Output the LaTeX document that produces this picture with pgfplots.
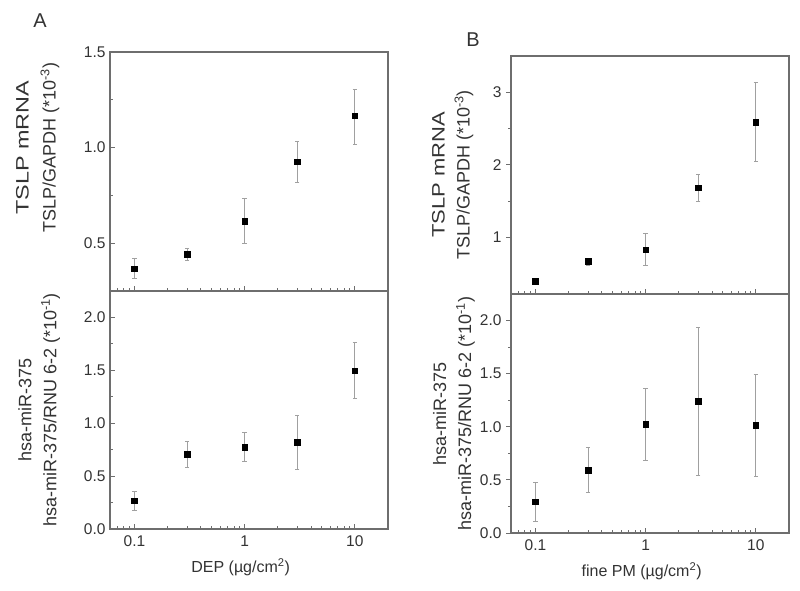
\documentclass[border=0pt]{standalone}
\usepackage{fontspec}
\setmainfont{Liberation Sans}
\usepackage{graphicx}
\usepackage{pgfplots}
\pgfplotsset{compat=1.18}
\definecolor{txt}{HTML}{333333}
\definecolor{axc}{HTML}{6E6E6E}
\definecolor{errc}{HTML}{A0A0A0}
\begin{document}
\begin{tikzpicture}
\path[use as bounding box] (0pt,0pt) rectangle (800pt,590pt);
\node[font=\fontsize{20}{24}\selectfont, text=txt] at (40pt,569pt) {A};
\node[font=\fontsize{20}{24}\selectfont, text=txt] at (473pt,550pt) {B};

% Panel A top
\begin{axis}[xmode=log, xmin=0.06, xmax=20,
  scale only axis, width=278pt, height=239pt,
  xtick={0.1,1,10}, xticklabels={},
  minor xtick={0.06,0.07,0.08,0.09,0.2,0.3,0.4,0.5,0.6,0.7,0.8,0.9,2,3,4,5,6,7,8,9},
  tick pos=left, tick align=inside,
  axis line style={axc, line width=1.1pt},
  major tick style={axc, line width=0.9pt}, major tick length=5pt,
  minor tick style={axc, line width=0.8pt}, minor tick length=3pt,
  tick label style={font=\fontsize{15.5}{18}\selectfont, text=txt},
  yticklabel style={xshift=-1pt},
  minor y tick num=1, clip=false,
  ymin=0.25, ymax=1.5, ytick={0.5,1.0,1.5}, yticklabels={0.5,1.0,1.5},
  ylabel={\scalebox{1.3}[1]{TSLP mRNA}\\TSLP/GAPDH (*10\textsuperscript{-3})},
  ylabel style={font=\fontsize{18}{27}\selectfont, text=txt, align=center,
    at={(axis description cs:-0.26,0.60)}, anchor=center},
  at={(110pt,299pt)}, anchor=south west]
\addplot[only marks, mark=square*, mark size=2.8pt, black, mark options={fill=black},
  error bars/.cd, y dir=both, y explicit,
  error bar style={errc, line width=0.8pt},
  error mark options={errc, mark size=2.2pt, line width=0.8pt, rotate=90}]
 coordinates {
 (0.1,0.367) += (0,0.053) -= (0,0.049)
 (0.3,0.442) += (0,0.030) -= (0,0.031)
 (1,0.615) += (0,0.119) -= (0,0.118)
 (3,0.927) += (0,0.108) -= (0,0.109)
 (10,1.166) += (0,0.140) -= (0,0.147)
};
\end{axis}

% Panel A bottom
\begin{axis}[xmode=log, xmin=0.06, xmax=20,
  scale only axis, width=278pt, height=238pt,
  xtick={0.1,1,10}, xticklabels={0.1,1,10},
  minor xtick={0.06,0.07,0.08,0.09,0.2,0.3,0.4,0.5,0.6,0.7,0.8,0.9,2,3,4,5,6,7,8,9},
  tick pos=left, tick align=inside,
  axis line style={axc, line width=1.1pt},
  major tick style={axc, line width=0.9pt}, major tick length=5pt,
  minor tick style={axc, line width=0.8pt}, minor tick length=3pt,
  tick label style={font=\fontsize{15.5}{18}\selectfont, text=txt},
  xticklabel style={yshift=-3pt},
  yticklabel style={xshift=-1pt},
  minor y tick num=1, clip=false,
  ymin=0, ymax=2.25, ytick={0,0.5,1.0,1.5,2.0}, yticklabels={0.0,0.5,1.0,1.5,2.0},
  xlabel={DEP (µg/cm\textsuperscript{2})},
  xlabel style={font=\fontsize{16}{20}\selectfont, text=txt,
    at={(axis description cs:0.47,-0.16)}, anchor=center},
  ylabel={hsa-miR-375\\hsa-miR-375/RNU 6-2 (*10\textsuperscript{-1})},
  ylabel style={font=\fontsize{18}{25}\selectfont, text=txt, align=center,
    at={(axis description cs:-0.255,0.5)}, anchor=center},
  at={(110pt,61pt)}, anchor=south west]
\addplot[only marks, mark=square*, mark size=2.8pt, black, mark options={fill=black},
  error bars/.cd, y dir=both, y explicit,
  error bar style={errc, line width=0.8pt},
  error mark options={errc, mark size=2.2pt, line width=0.8pt, rotate=90}]
 coordinates {
 (0.1,0.266) += (0,0.094) -= (0,0.090)
 (0.3,0.705) += (0,0.126) -= (0,0.122)
 (1,0.774) += (0,0.138) -= (0,0.138)
 (3,0.821) += (0,0.254) -= (0,0.260)
 (10,1.495) += (0,0.267) -= (0,0.263)
};
\end{axis}

% Panel B top
\begin{axis}[xmode=log, xmin=0.06, xmax=20,
  scale only axis, width=278pt, height=238pt,
  xtick={0.1,1,10}, xticklabels={},
  minor xtick={0.06,0.07,0.08,0.09,0.2,0.3,0.4,0.5,0.6,0.7,0.8,0.9,2,3,4,5,6,7,8,9},
  tick pos=left, xtick align=inside, ytick align=outside,
  axis line style={axc, line width=1.1pt},
  major tick style={axc, line width=0.9pt}, major tick length=5pt,
  minor tick style={axc, line width=0.8pt}, minor tick length=3pt,
  tick label style={font=\fontsize{15.5}{18}\selectfont, text=txt},
  yticklabel style={xshift=-1pt},
  minor y tick num=1, clip=false,
  ymin=0.22, ymax=3.5, ytick={1,2,3}, yticklabels={1,2,3},
  ylabel={\scalebox{1.22}[1]{TSLP mRNA}\\TSLP/GAPDH (*10\textsuperscript{-3})},
  ylabel style={font=\fontsize{18}{25}\selectfont, text=txt, align=center,
    at={(axis description cs:-0.21,0.5)}, anchor=center},
  at={(511pt,296pt)}, anchor=south west]
\addplot[only marks, mark=square*, mark size=2.8pt, black, mark options={fill=black},
  error bars/.cd, y dir=both, y explicit,
  error bar style={errc, line width=0.8pt},
  error mark options={errc, mark size=2.2pt, line width=0.8pt, rotate=90}]
 coordinates {
 (0.1,0.393) += (0,0.030) -= (0,0.030)
 (0.3,0.669) += (0,0.046) -= (0,0.055)
 (1,0.830) += (0,0.220) -= (0,0.216)
 (3,1.685) += (0,0.184) -= (0,0.184)
 (10,2.586) += (0,0.552) -= (0,0.538)
};
\end{axis}

% Panel B bottom
\begin{axis}[xmode=log, xmin=0.06, xmax=20,
  scale only axis, width=278pt, height=239pt,
  xtick={0.1,1,10}, xticklabels={0.1,1,10},
  minor xtick={0.06,0.07,0.08,0.09,0.2,0.3,0.4,0.5,0.6,0.7,0.8,0.9,2,3,4,5,6,7,8,9},
  tick pos=left, xtick align=inside, ytick align=outside,
  axis line style={axc, line width=1.1pt},
  major tick style={axc, line width=0.9pt}, major tick length=5pt,
  minor tick style={axc, line width=0.8pt}, minor tick length=3pt,
  tick label style={font=\fontsize{15.5}{18}\selectfont, text=txt},
  xticklabel style={yshift=-3pt},
  yticklabel style={xshift=-1pt},
  minor y tick num=1, clip=false,
  ymin=0, ymax=2.25, ytick={0,0.5,1.0,1.5,2.0}, yticklabels={0.0,0.5,1.0,1.5,2.0},
  xlabel={fine PM (µg/cm\textsuperscript{2})},
  xlabel style={font=\fontsize{16}{20}\selectfont, text=txt,
    at={(axis description cs:0.47,-0.16)}, anchor=center},
  ylabel={hsa-miR-375\\hsa-miR-375/RNU 6-2 (*10\textsuperscript{-1})},
  ylabel style={font=\fontsize{18}{25}\selectfont, text=txt, align=center,
    at={(axis description cs:-0.205,0.5)}, anchor=center},
  at={(511pt,57pt)}, anchor=south west]
\addplot[only marks, mark=square*, mark size=2.8pt, black, mark options={fill=black},
  error bars/.cd, y dir=both, y explicit,
  error bar style={errc, line width=0.8pt},
  error mark options={errc, mark size=2.2pt, line width=0.8pt, rotate=90}]
 coordinates {
 (0.1,0.295) += (0,0.178) -= (0,0.182)
 (0.3,0.592) += (0,0.217) -= (0,0.210)
 (1,1.022) += (0,0.338) -= (0,0.342)
 (3,1.241) += (0,0.696) -= (0,0.696)
 (10,1.016) += (0,0.479) -= (0,0.483)
};
\end{axis}
\end{tikzpicture}
\end{document}
